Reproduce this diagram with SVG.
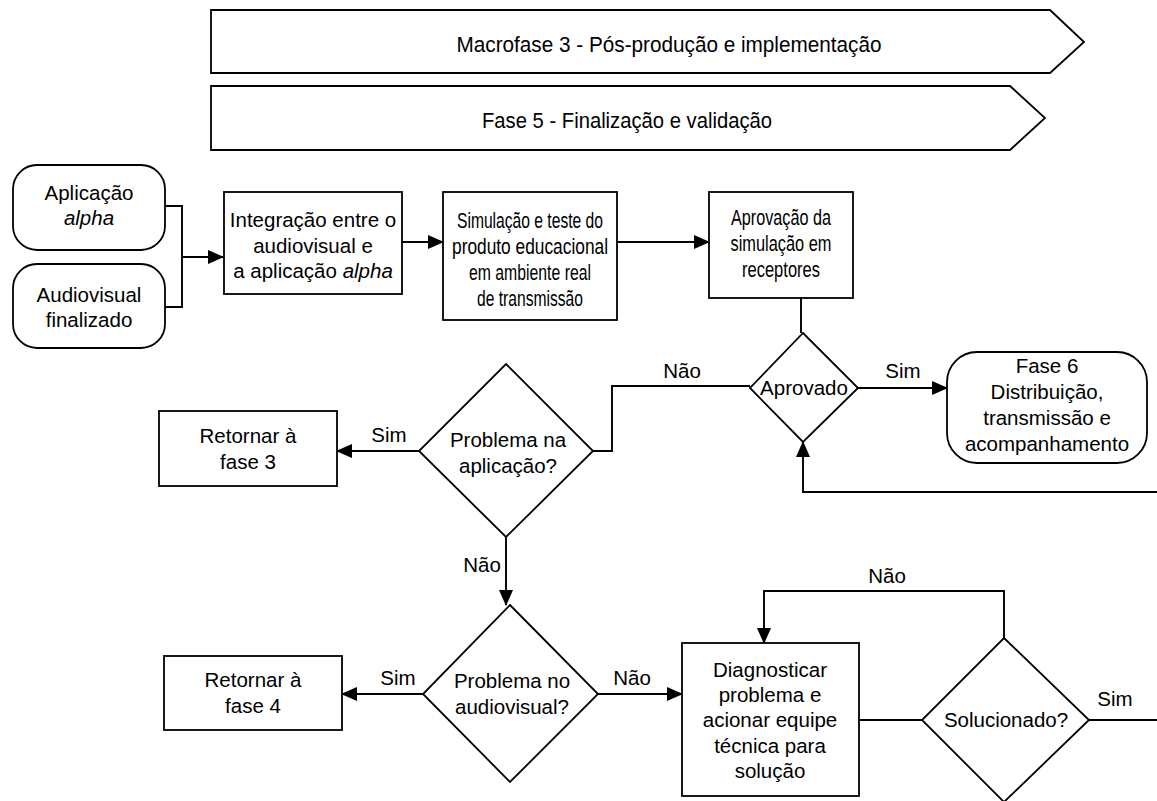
<svg xmlns="http://www.w3.org/2000/svg" width="1157" height="801" viewBox="0 0 1157 801">
<defs>
<marker id="arr" markerUnits="userSpaceOnUse" markerWidth="16" markerHeight="16" viewBox="0 0 16 16" refX="15" refY="8" orient="auto">
<path d="M0,1 L16,8 L0,15 Z" fill="#000"/>
</marker>
</defs>
<style>
.s{fill:#fff;stroke:#000;stroke-width:1.8}
.t{font-family:"Liberation Sans",Arial,sans-serif;font-size:20.5px;fill:#000;text-anchor:middle}
.n{font-size:21.5px}
.c{fill:none;stroke:#000;stroke-width:1.9}
.a{marker-end:url(#arr)}
</style>
<rect width="1157" height="801" fill="#fff"/>
<g id="macrofase3">
<polygon class="s" points="211,10 1050,10 1084,42 1050,73 211,73"/>
<text class="t n" x="669" y="52" textLength="425" lengthAdjust="spacingAndGlyphs">Macrofase 3 - Pós-produção e implementação</text>
</g>
<g id="fase5">
<polygon class="s" points="211,86 1010,86 1045,118 1010,150 211,150"/>
<text class="t n" x="627" y="128" textLength="290" lengthAdjust="spacingAndGlyphs">Fase 5 - Finalização e validação</text>
</g>
<g id="connectors">
<path class="c" d="M165,206 H182 V307 H165"/>
<path class="c a" d="M182,257 H223"/>
<path class="c a" d="M402,242 H443"/>
<path class="c a" d="M617,242 H709"/>
<path class="c" d="M801,298 V333"/>
<path class="c a" d="M858,388 H947"/>
<path class="c a" d="M1157,492 H803 V442"/>
<path class="c" d="M750,386 H612 V451 H593"/>
<path class="c a" d="M419,451 H337"/>
<path class="c a" d="M506,537 V605"/>
<path class="c a" d="M423,694 H342"/>
<path class="c a" d="M598,694 H682"/>
<path class="c" d="M859,720 H922"/>
<path class="c" d="M1089,720 H1157"/>
<path class="c a" d="M1004,638 V591 H764 V643"/>
<text class="t" x="903" y="378">Sim</text>
<text class="t" x="682" y="378">Não</text>
<text class="t" x="389" y="442">Sim</text>
<text class="t" x="482" y="572">Não</text>
<text class="t" x="398" y="685">Sim</text>
<text class="t" x="632" y="685">Não</text>
<text class="t" x="1115" y="706">Sim</text>
<text class="t" x="887" y="583">Não</text>
</g>
<g id="aplicacao">
<rect class="s" x="13" y="165" width="152" height="85" rx="24"/>
<text class="t" x="89" y="200">Aplicação</text>
<text class="t" x="89" y="225" font-style="italic">alpha</text>
</g>
<g id="audiovisual">
<rect class="s" x="13" y="264" width="152" height="84" rx="24"/>
<text class="t" x="89" y="302">Audiovisual</text>
<text class="t" x="89" y="327">finalizado</text>
</g>
<g id="integracao">
<rect class="s" x="224" y="192" width="178" height="102"/>
<text class="t" x="313" y="227">Integração entre o</text>
<text class="t" x="313" y="253">audiovisual e</text>
<text class="t" x="313" y="278">a aplicação <tspan font-style="italic">alpha</tspan></text>
</g>
<g id="simulacao">
<rect class="s" x="443" y="192" width="174" height="128"/>
<text class="t n" x="530" y="228" textLength="146" lengthAdjust="spacingAndGlyphs">Simulação e teste do</text>
<text class="t n" x="530" y="254" textLength="156" lengthAdjust="spacingAndGlyphs">produto educacional</text>
<text class="t n" x="530" y="280" textLength="122" lengthAdjust="spacingAndGlyphs">em ambiente real</text>
<text class="t n" x="530" y="306" textLength="106" lengthAdjust="spacingAndGlyphs">de transmissão</text>
</g>
<g id="aprovacao">
<rect class="s" x="709" y="192" width="144" height="106"/>
<text class="t n" x="781" y="225" textLength="100" lengthAdjust="spacingAndGlyphs">Aprovação da</text>
<text class="t n" x="781" y="251" textLength="101" lengthAdjust="spacingAndGlyphs">simulação em</text>
<text class="t n" x="781" y="277" textLength="78" lengthAdjust="spacingAndGlyphs">receptores</text>
</g>
<g id="aprovado">
<polygon class="s" points="803,333 858,388 803,442 750,388"/>
<text class="t" x="804" y="395">Aprovado</text>
</g>
<g id="fase6">
<rect class="s" x="947" y="352" width="200" height="111" rx="30"/>
<text class="t" x="1047" y="373" font-size="21.5">Fase 6</text>
<text class="t" x="1047" y="399" font-size="21.5">Distribuição,</text>
<text class="t" x="1047" y="425" font-size="21.5">transmissão e</text>
<text class="t" x="1047" y="451" font-size="21.5">acompanhamento</text>
</g>
<g id="problema-aplicacao">
<polygon class="s" points="506,364 593,451 506,537 419,451"/>
<text class="t" x="508" y="447">Problema na</text>
<text class="t" x="508" y="473">aplicação?</text>
</g>
<g id="retornar3">
<rect class="s" x="159" y="411" width="178" height="75"/>
<text class="t" x="248" y="443">Retornar à</text>
<text class="t" x="248" y="469">fase 3</text>
</g>
<g id="problema-audiovisual">
<polygon class="s" points="510,605 598,694 510,782 423,694"/>
<text class="t" x="512" y="688">Problema no</text>
<text class="t" x="512" y="714">audiovisual?</text>
</g>
<g id="retornar4">
<rect class="s" x="164" y="656" width="178" height="74"/>
<text class="t" x="253" y="687">Retornar à</text>
<text class="t" x="253" y="713">fase 4</text>
</g>
<g id="diagnosticar">
<rect class="s" x="682" y="643" width="177" height="153"/>
<text class="t" x="770" y="677">Diagnosticar</text>
<text class="t" x="770" y="702">problema e</text>
<text class="t" x="770" y="727">acionar equipe</text>
<text class="t" x="770" y="753">técnica para</text>
<text class="t" x="770" y="778">solução</text>
</g>
<g id="solucionado">
<polygon class="s" points="1004,638 1089,720 1004,802 922,720"/>
<text class="t" x="1006" y="727">Solucionado?</text>
</g>
</svg>
